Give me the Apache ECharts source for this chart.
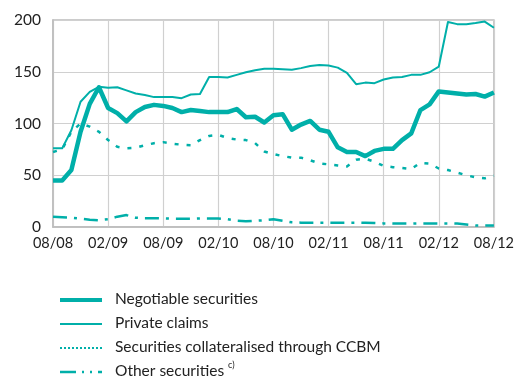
<!DOCTYPE html>
<html>
<head>
<meta charset="utf-8">
<script src="https://cdn.jsdelivr.net/npm/echarts@6/dist/echarts.min.js"></script>
<style>
  html, body { margin: 0; padding: 0; background: #fff; }
  #chart { width: 517px; height: 377px; }
</style>
</head>
<body>
<div id="chart"></div>
<script>
// Monthly observations, August 2008 to August 2012 (EUR bn)
const months = [
  '08/08','09/08','10/08','11/08','12/08','01/09','02/09','03/09','04/09','05/09','06/09','07/09',
  '08/09','09/09','10/09','11/09','12/09','01/10','02/10','03/10','04/10','05/10','06/10','07/10',
  '08/10','09/10','10/10','11/10','12/10','01/11','02/11','03/11','04/11','05/11','06/11','07/11',
  '08/11','09/11','10/11','11/11','12/11','01/12','02/12','03/12','04/12','05/12','06/12','07/12',
  '08/12'
];

const negotiable = [45, 45, 55, 92, 119, 135, 115, 110, 102, 111, 116, 118,
  117, 115, 111, 113, 112, 111, 111, 111, 114, 106, 106.5, 101,
  108, 109, 94, 99, 102.5, 94, 92, 77, 72.5, 72.5, 68.5, 73.5,
  75.5, 75.5, 84, 90.5, 113, 118.5, 131, 130, 129, 128, 128.5, 126,
  130];

const privateClaims = [76, 76, 93.5, 121, 130.5, 135.5, 134.5, 135, 132, 129, 127.5, 125.5,
  125.5, 125.5, 124.5, 128, 128.5, 145, 145, 144.5, 147, 149.5, 151.5, 153,
  153, 152.5, 152, 153.5, 155.5, 156.5, 156, 154, 149, 138, 139.5, 139,
  142.5, 144.5, 145, 147, 147, 149.5, 155, 198, 196, 196, 197, 198.5,
  192.5];

const ccbm = [72.5, 75, 92, 100, 97, 92, 84, 77.5, 76, 76.5, 79, 81,
  82, 80.5, 79.5, 79, 84, 88, 89, 86, 84.5, 84, 81, 73,
  70.5, 68.5, 67, 67, 64.5, 61.5, 60.5, 59.5, 58.5, 65, 66, 63,
  59, 57.8, 57, 56, 62, 61.3, 56.5, 55, 52.5, 50, 48, 47,
  49.5];

const otherSecurities = [10, 9.5, 9, 8, 7, 6.5, 7.5, 10, 11.5, 9, 8.5, 8.5,
  8.3, 8, 8, 8, 8.3, 8.3, 8.3, 7.5, 6, 5.5, 6, 6.5,
  7.5, 6, 4.5, 4.2, 4.2, 4.2, 4.2, 4.2, 4.2, 4.2, 4, 3.8,
  3.5, 3.3, 3.3, 3.3, 3.5, 3.5, 3.5, 3.5, 3.3, 2.5, 1.5, 1.5,
  1.5];

const seriesNames = [
  'Negotiable securities',
  'Private claims',
  'Securities collateralised through CCBM',
  'Other securities'
];

const teal = '#00afa9';
const font = 'Lato, "Open Sans", sans-serif';

// Line styles shared by the plotted series and their key entries
const styles = [
  { width: 4.5, type: 'solid', keyWidth: 4, keyType: 'solid' },
  { width: 2, type: 'solid', keyWidth: 2, keyType: 'solid' },
  { width: 2.5, type: [4, 8], keyWidth: 2, keyType: [2, 2] },
  { width: 2.5, type: [14, 7, 3, 7], keyWidth: 2.5, keyType: [16, 6, 2, 6, 2, 6] }
];
const seriesData = [negotiable, privateClaims, ccbm, otherSecurities];

const chart = echarts.init(document.getElementById('chart'));

function lineSeries(i) {
  return {
    name: seriesNames[i],
    type: 'line',
    data: seriesData[i],
    symbol: 'none',
    color: teal,
    z: 10 - i,
    lineStyle: { color: teal, width: styles[i].width, type: styles[i].type, cap: 'butt', join: 'round' },
    emphasis: { disabled: true }
  };
}

// Key drawn below the plot: one line sample and one label per series
const keyTop = 299, keyStep = 24;
const keyGraphics = [];
seriesNames.forEach(function (name, i) {
  const y = keyTop + i * keyStep;
  keyGraphics.push({
    type: 'line',
    shape: { x1: 60, y1: y + 1, x2: 102, y2: y + 1 },
    style: { stroke: teal, lineWidth: styles[i].keyWidth, lineDash: styles[i].keyType === 'solid' ? null : styles[i].keyType, lineCap: 'butt' },
    silent: true
  });
  keyGraphics.push({
    type: 'text',
    x: 115,
    y: y,
    style: {
      text: i === 3 ? name + ' {sup|c)}' : name,
      fill: '#222',
      font: '15.5px ' + font,
      verticalAlign: 'middle',
      rich: { sup: { fontSize: 9, fontFamily: font, fill: '#222', verticalAlign: 'bottom', padding: [0, 0, 11, 0] } }
    },
    silent: true
  });
});

chart.setOption({
  animation: false,
  textStyle: { fontFamily: font },
  grid: { left: 53, right: 21, top: 20, bottom: 150, show: true, borderColor: '#bcbcbc', borderWidth: 1.5 },
  xAxis: {
    type: 'category',
    data: months,
    boundaryGap: false,
    axisLine: { show: true, lineStyle: { color: '#bcbcbc', width: 1.5 } },
    axisTick: { show: false },
    axisLabel: { interval: 5, color: '#222', fontSize: 14.5, margin: 9, fontFamily: font },
    splitLine: { show: true, interval: 5, lineStyle: { color: '#d0d0d0', width: 1.2 } }
  },
  yAxis: {
    type: 'value',
    min: 0,
    max: 200,
    interval: 50,
    axisLine: { show: true, lineStyle: { color: '#bcbcbc', width: 1.5 } },
    axisTick: { show: false },
    axisLabel: { color: '#222', fontSize: 15.5, margin: 12, fontFamily: font },
    splitLine: { show: true, lineStyle: { color: '#d0d0d0', width: 1.2 } }
  },
  legend: { show: false },
  graphic: keyGraphics,
  series: [lineSeries(0), lineSeries(1), lineSeries(2), lineSeries(3)]
});
</script>
</body>
</html>
